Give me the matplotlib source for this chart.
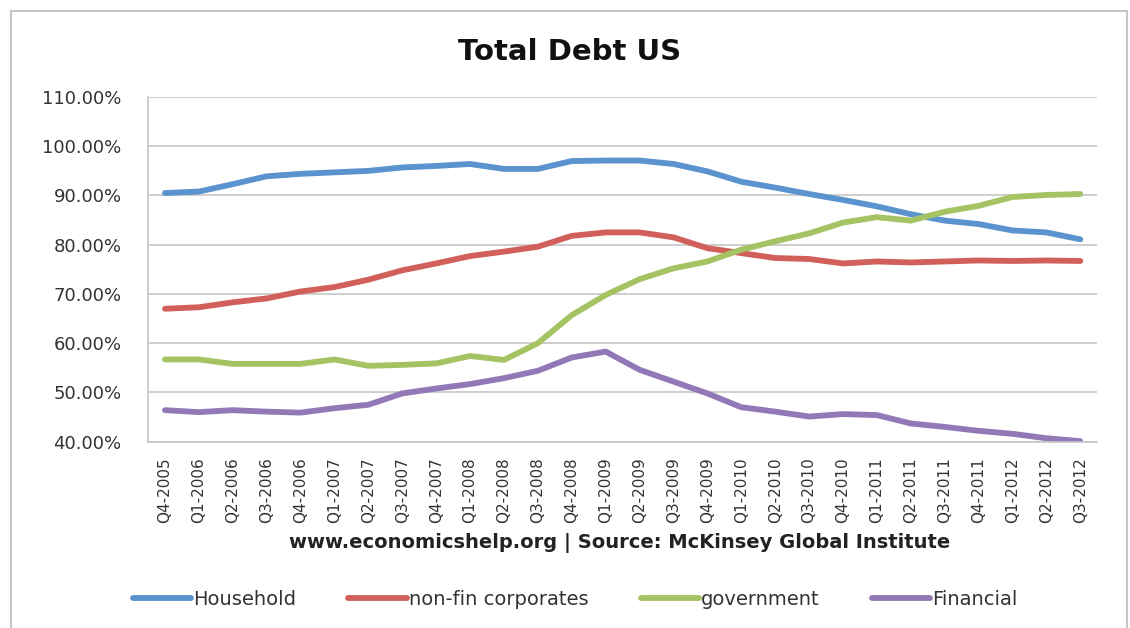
import matplotlib
matplotlib.use('Agg')
import matplotlib.pyplot as plt
from matplotlib.patches import Rectangle
from matplotlib.ticker import FuncFormatter

quarters = ['Q4-2005', 'Q1-2006', 'Q2-2006', 'Q3-2006', 'Q4-2006', 'Q1-2007', 'Q2-2007',
            'Q3-2007', 'Q4-2007', 'Q1-2008', 'Q2-2008', 'Q3-2008', 'Q4-2008', 'Q1-2009',
            'Q2-2009', 'Q3-2009', 'Q4-2009', 'Q1-2010', 'Q2-2010', 'Q3-2010', 'Q4-2010',
            'Q1-2011', 'Q2-2011', 'Q3-2011', 'Q4-2011', 'Q1-2012', 'Q2-2012', 'Q3-2012']

household = [90.5, 90.8, 92.3, 93.9, 94.4, 94.7, 95.0, 95.7, 96.0, 96.4, 95.4, 95.4, 97.0, 97.1,
             97.1, 96.4, 94.9, 92.8, 91.6, 90.3, 89.1, 87.8, 86.2, 84.9, 84.2, 82.9, 82.5, 81.1]
non_fin = [67.0, 67.3, 68.3, 69.1, 70.5, 71.4, 72.9, 74.8, 76.2, 77.7, 78.6, 79.6, 81.8, 82.5,
           82.5, 81.5, 79.3, 78.3, 77.3, 77.1, 76.2, 76.6, 76.4, 76.6, 76.8, 76.7, 76.8, 76.7]
government = [56.7, 56.7, 55.8, 55.8, 55.8, 56.7, 55.4, 55.6, 55.9, 57.4, 56.6, 60.0, 65.7, 69.8,
              73.0, 75.2, 76.6, 79.0, 80.7, 82.3, 84.5, 85.6, 84.9, 86.7, 87.9, 89.7, 90.1, 90.3]
financial = [46.4, 46.0, 46.4, 46.1, 45.9, 46.8, 47.5, 49.8, 50.8, 51.7, 52.9, 54.4, 57.1, 58.3,
             54.6, 52.2, 49.8, 47.0, 46.1, 45.1, 45.6, 45.4, 43.7, 43.0, 42.2, 41.6, 40.7, 40.1]

series = [('Household', household, '#5A93CE'),
          ('non-fin corporates', non_fin, '#D1605A'),
          ('government', government, '#A5C363'),
          ('Financial', financial, '#9278B6')]

plt.rcParams['font.family'] = ['DejaVu Sans']

fig = plt.figure(figsize=(11.3, 6.28), dpi=100)
ax = fig.add_axes([0.131, 0.2967, 0.840, 0.5488])

x = list(range(len(quarters)))
for name, vals, col in series:
    ax.plot(x, vals, color=col, lw=4.2, label=name, solid_capstyle='round')

ax.set_xlim(-0.5, len(quarters) - 0.5)
ax.set_ylim(40, 110)
ax.set_yticks(range(40, 111, 10))
ax.yaxis.set_major_formatter(FuncFormatter(lambda v, p: '%.2f%%' % v))
ax.set_xticks(x)
ax.set_xticklabels(quarters, rotation=90)
ax.grid(axis='y', color='#c6c6c6', lw=1.2)
ax.set_axisbelow(True)
for s in ['top', 'right']:
    ax.spines[s].set_visible(False)
for s in ['left', 'bottom']:
    ax.spines[s].set_color('#c6c6c6')
    ax.spines[s].set_linewidth(1.2)
ax.tick_params(axis='y', length=0, pad=19, labelsize=13, labelcolor='#333333')
ax.tick_params(axis='x', length=0, pad=11, labelsize=11, labelcolor='#333333')

fig.text(0.504, 0.917, 'Total Debt US', ha='center', va='center', fontsize=21, fontweight='bold',
         color='#111111')
fig.text(0.548, 0.135, 'www.economicshelp.org | Source: McKinsey Global Institute',
         ha='center', va='center', fontsize=14, fontweight='bold', color='#222222')

leg = fig.legend(loc='center', bbox_to_anchor=(0.509, 0.045), ncol=4, frameon=False,
                 fontsize=14, handlelength=3.0, handletextpad=0.1, columnspacing=2.7)
for t in leg.get_texts():
    t.set_color('#333333')

fig.patches.append(Rectangle((0.0097, -0.1), 0.988, 1.0825, transform=fig.transFigure,
                             fill=False, edgecolor='#c6c6c6', lw=1.5))

plt.savefig('out.png', dpi=100)
